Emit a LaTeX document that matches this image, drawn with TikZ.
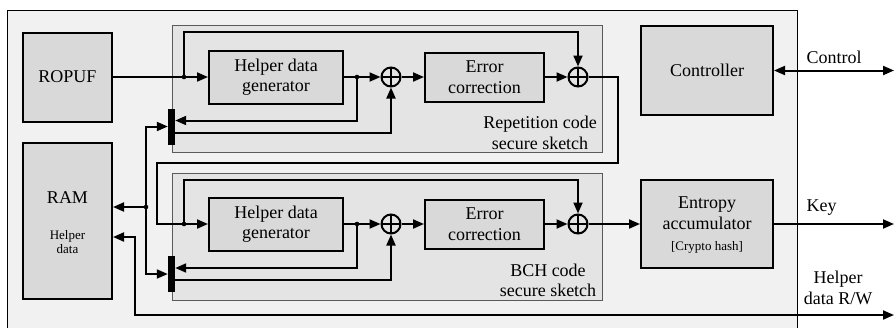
\documentclass[tikz,border=0pt]{standalone}
\usepackage{fontspec}
\setmainfont{Liberation Serif}
\usetikzlibrary{arrows.meta}

\definecolor{chipbg}{HTML}{F1F1F1}
\definecolor{sketchbg}{HTML}{E4E4E4}
\definecolor{blockbg}{HTML}{D9D9D9}
\definecolor{sketchline}{HTML}{5A5A5A}

\newcommand{\bigfont}{\fontsize{18}{20.5}\selectfont}
\newcommand{\smallfont}{\fontsize{13}{14}\selectfont}

\tikzset{
  every node/.style={font=\bigfont},
  block/.style={draw, line width=2pt, fill=blockbg, inner sep=0pt, align=center},
  sketch/.style={draw=sketchline, line width=0.9pt, fill=sketchbg},
  muxbar/.style={fill=black, draw=none, minimum width=7pt, minimum height=36pt, inner sep=0pt},
  xor/.style={circle, draw, line width=2pt, minimum size=19pt, inner sep=0pt,
    path picture={\draw[line width=2pt]
      (path picture bounding box.north) -- (path picture bounding box.south)
      (path picture bounding box.east) -- (path picture bounding box.west);}},
  tip/.tip={Triangle[length=11pt,width=9pt]},
  wire/.style={line width=2pt, -tip},
  wire2/.style={line width=2pt, tip-tip},
  joint/.style={fill=black},
}

\begin{document}
\begin{tikzpicture}[x=1pt, y=-1pt]
\useasboundingbox (0,0) rectangle (895,327);

% chip outline
\draw[fill=chipbg, line width=0.9pt] (7,10) rectangle (797,340);

% secure sketch frames
\draw[sketch] (172,25) rectangle (602,152);
\draw[sketch] (172,173) rectangle (602,300);
\node[align=center] (replabel) at (540,133) {Repetition code\\secure sketch};
\node[align=center] (bchlabel) at (548,280.5) {BCH code\\secure sketch};

% blocks
\node[block, minimum width=89pt, minimum height=89pt] (ropuf) at (67.5,77) {ROPUF};
\node[block, minimum width=89pt, minimum height=156pt] (ram) at (67.5,221) {};
\node (ramtext) at (67.5,198) {RAM};
\node[align=center, font=\smallfont] (ramsub) at (67.5,242) {Helper\\data};

\node[block, minimum width=134pt, minimum height=53pt] (hdg1) at (276,77) {Helper data\\generator};
\node[block, minimum width=134pt, minimum height=53pt] (hdg2) at (276,224) {Helper data\\generator};
\node[block, minimum width=119pt, minimum height=49pt] (ec1) at (484.5,77) {Error\\correction};
\node[block, minimum width=119pt, minimum height=49pt] (ec2) at (484.5,224) {Error\\correction};

\node[block, minimum width=132pt, minimum height=89pt] (ctrl) at (707,70.5) {Controller};
\node[block, minimum width=132pt, minimum height=88pt] (entropy) at (707,224) {};
\node[align=center] (enttext) at (707,213) {Entropy\\accumulator};
\node[font=\smallfont] (enthash) at (707,247) {[Crypto hash]};

\node[xor] (xor1a) at (391,77) {};
\node[xor] (xor2a) at (578,77) {};
\node[xor] (xor1b) at (391,224) {};
\node[xor] (xor2b) at (578,224) {};

\node[muxbar] (mux1) at (171.5,126.5) {};
\node[muxbar] (mux2) at (171.5,274) {};

% branch points and bends
\coordinate (d1) at (184,77);
\coordinate (d2) at (357,77);
\coordinate (d3) at (184,224);
\coordinate (d4) at (357,224);
\coordinate (dr) at (146,207);
\coordinate (t1) at (184,32);
\coordinate (t2) at (184,180);
\coordinate (c1) at (618,163);
\coordinate (c2) at (157,163);
\coordinate (hd1) at (135,315);
\coordinate (hdout) at (894,315);
\coordinate (keyout) at (894,224);
\coordinate (ctrlout) at (894,70.5);

% repetition code sketch
\draw[wire] (ropuf.east) -- (hdg1.west);
\draw[wire] (d1) -- (t1) -| (xor2a.north);
\draw[wire] (hdg1.east) -- (xor1a.west);
\draw[wire] (d2) |- ([yshift=6pt]mux1.east);
\draw[wire] ([yshift=-6pt]mux1.east) -| (xor1a.south);
\draw[wire] (xor1a.east) -- (ec1.west);
\draw[wire] (ec1.east) -- (xor2a.west);
\draw[wire] (xor2a.east) -| (c1) -- (c2) |- (hdg2.west);

% BCH code sketch
\draw[wire] (d3) -- (t2) -| (xor2b.north);
\draw[wire] (hdg2.east) -- (xor1b.west);
\draw[wire] (d4) |- ([yshift=6pt]mux2.east);
\draw[wire] ([yshift=-6pt]mux2.east) -| (xor1b.south);
\draw[wire] (xor1b.east) -- (ec2.west);
\draw[wire] (ec2.east) -- (xor2b.west);
\draw[wire] (xor2b.east) -- (entropy.west);

% helper data memory
\draw[wire] (dr) |- (mux1.west);
\draw[wire] (dr) |- (mux2.west);
\draw[wire] (dr) -- (ram.east |- dr);
\draw[wire2] ([yshift=-16pt]ram.east) -| (hd1) -- (hdout);

% external interface
\draw[wire] (entropy.east) -- (keyout);
\draw[wire2] (ctrl.east) -- (ctrlout);
\node[anchor=base west] (ctrllabel) at (803,63) {Control};
\node[anchor=base west] (keylabel) at (803,211) {Key};
\node[align=center] (hdlabel) at (838,288) {Helper\\data R/W};

% junction dots
\foreach \p in {d1,d2,d3,d4,dr}
  \fill[joint] (\p) circle (2.3pt);
\end{tikzpicture}
\end{document}
